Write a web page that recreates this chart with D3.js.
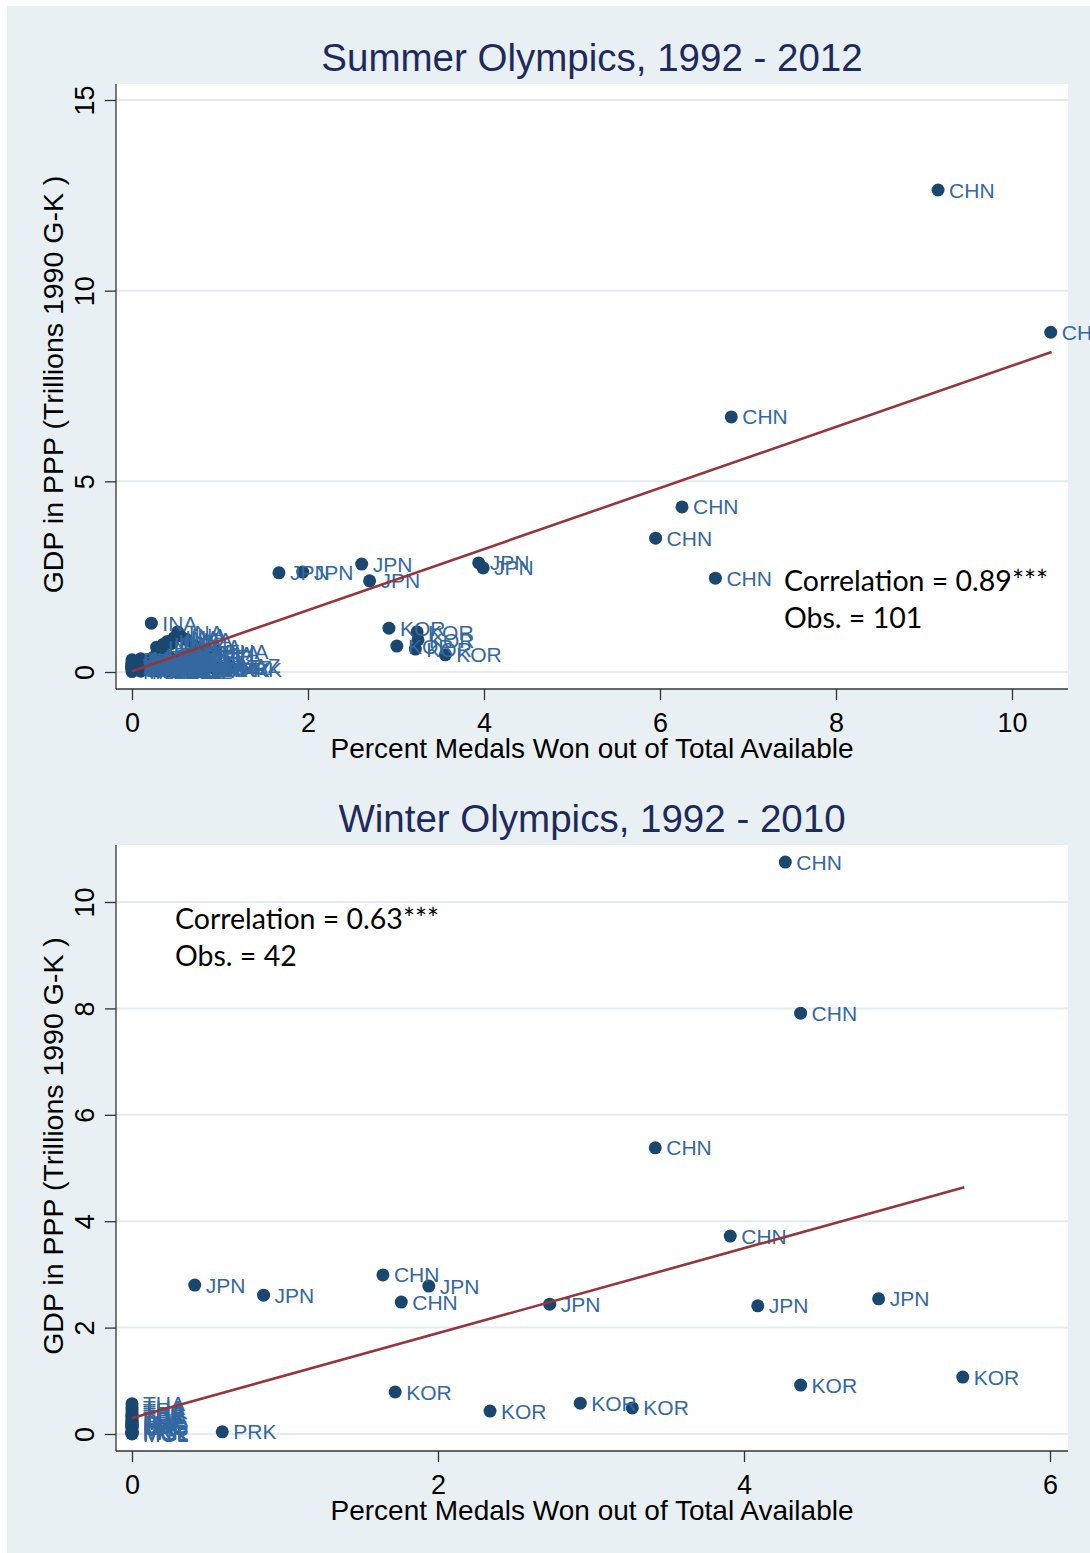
<!DOCTYPE html>
<html><head><meta charset="utf-8">
<script src="https://cdn.jsdelivr.net/npm/d3@7"></script>
<style>body{margin:0;background:#fff}svg{display:block}</style>
</head><body>
<script>
// ---------- Summer data ----------
const summerCodes = [
 "CHN","CHN","CHN","CHN","CHN","CHN",
 "JPN","JPN","JPN","JPN","JPN","JPN",
 "KOR","KOR","KOR","KOR","KOR","KOR",
 "INA","INA","INA","INA","INA","INA","INA","INA","INA","INA",
 "THA","THA","THA","THA","THA","THA",
 "PRK","PRK","PRK","PRK","PRK","PRK",
 "TPE","TPE","TPE","TPE","TPE","TPE",
 "MAS","MAS","MAS","MAS","MAS","MAS",
 "PHI","PHI","PHI","PHI","PHI","PHI",
 "HKG","HKG","HKG","HKG","HKG","HKG",
 "SIN","SIN","SIN","SIN","SIN",
 "MGL","MGL","MGL","MGL","MGL",
 "VIE","VIE","VIE","VIE","VIE",
 "KAZ","KAZ","KAZ","KAZ","KAZ",
 "UZB","UZB","UZB","UZB","UZB",
 "IRI","IRI","IRI","IRI"
];
const summerMedalPct = [
 9.16,10.44,6.81,6.25,5.95,6.63,
 1.67,1.94,2.61,2.70,3.94,3.99,
 2.92,3.01,3.24,3.25,3.22,3.56,
 0.22,0.52,0.55,0.62,0.45,0.72,0.35,0.28,0.40,0.48,
 0.85,0.78,0.65,0.42,0.30,0.95,
 1.09,0.95,0.62,0.70,0.55,0.80,
 0.55,0.38,0.62,0.48,0.20,0.75,
 0.10,0.20,0.15,0.30,0.08,0.25,
 0.12,0.05,0.00,0.08,0.00,0.10,
 0.00,0.10,0.05,0.12,0.00,0.15,
 0.00,0.10,0.00,0.08,0.00,
 0.10,0.00,0.40,0.30,0.50,
 0.00,0.00,0.10,0.15,0.00,
 0.90,1.00,0.85,1.10,0.70,
 0.35,0.45,0.50,0.60,0.40,
 0.40,0.45,0.60,0.50
];
const summerGDP = [
 12.64,8.91,6.69,4.33,3.51,2.46,
 2.60,2.62,2.83,2.39,2.86,2.73,
 1.15,0.68,1.05,0.84,0.60,0.45,
 1.28,1.05,0.95,0.85,0.75,0.68,0.72,0.65,0.80,0.90,
 0.52,0.48,0.45,0.40,0.38,0.55,
 0.08,0.07,0.06,0.06,0.05,0.07,
 0.40,0.45,0.35,0.30,0.28,0.42,
 0.35,0.30,0.25,0.22,0.18,0.40,
 0.30,0.28,0.32,0.25,0.22,0.20,
 0.15,0.18,0.20,0.22,0.25,0.14,
 0.08,0.10,0.12,0.12,0.10,
 0.02,0.01,0.02,0.02,0.02,
 0.10,0.14,0.15,0.16,0.18,
 0.15,0.12,0.14,0.17,0.13,
 0.05,0.05,0.06,0.06,0.06,
 0.25,0.28,0.30,0.32
];
const summerFitX = [0, 10.45];
const summerFitY = [0.02, 8.39];
const summerXTicks = [0, 2, 4, 6, 8, 10];
const summerYTicks = [0, 5, 10, 15];
const summerTitle = "Summer Olympics, 1992 - 2012";
const summerNote = ["Correlation = 0.89***", "Obs. = 101"];

// ---------- Winter data ----------
const winterCodes = [
 "CHN","CHN","CHN","CHN","CHN","CHN",
 "JPN","JPN","JPN","JPN","JPN","JPN",
 "KOR","KOR","KOR","KOR","KOR","KOR",
 "PRK",
 "THA","THA","THA","THA",
 "TPE","TPE","TPE","TPE",
 "PHI","PHI","PHI",
 "HKG","HKG","HKG",
 "MAS","MAS",
 "PRK","PRK","PRK",
 "MGL","MGL","MGL","MGL"
];
const winterMedalPct = [
 4.27,4.37,3.42,3.91,1.64,1.76,
 0.41,0.86,1.94,2.73,4.09,4.88,
 1.72,2.34,2.93,3.27,4.37,5.43,
 0.59,
 0,0,0,0,
 0,0,0,0,
 0,0,0,
 0,0,0,
 0,0,
 0,0,0,
 0,0,0,0
];
const winterGDP = [
 10.75,7.91,5.38,3.72,2.99,2.48,
 2.80,2.61,2.78,2.44,2.41,2.54,
 0.79,0.43,0.58,0.49,0.92,1.07,
 0.04,
 0.57,0.50,0.45,0.40,
 0.36,0.33,0.30,0.27,
 0.25,0.22,0.19,
 0.17,0.15,0.13,
 0.21,0.11,
 0.03,0.04,0.05,
 0.00,0.01,0.01,0.02
];
const winterFitX = [0, 5.44];
const winterFitY = [0.30, 4.64];
const winterXTicks = [0, 2, 4, 6];
const winterYTicks = [0, 2, 4, 6, 8, 10];
const winterTitle = "Winter Olympics, 1992 - 2010";
const winterNote = ["Correlation = 0.63***", "Obs. = 42"];

const xTitle = "Percent Medals Won out of Total Available";
const yTitle = "GDP in PPP (Trillions 1990 G-K )";

// ---------- Drawing ----------
const W = 1090, H = 1553;
const BG = "#e9f0f3", GRID = "#e2ebef", MARK = "#1a476f", LAB = "#3468a0", FIT = "#94363c", TITLE = "#1e2a5c";
const SANS = "'Liberation Sans', Arial, sans-serif";
const NOTEF = "Lato, 'Open Sans', sans-serif";

const svg = d3.select("body").append("svg").attr("width", W).attr("height", H);
svg.append("rect").attr("width", W).attr("height", H).attr("fill", "#fff");
svg.append("rect").attr("x", 7).attr("y", 6).attr("width", W - 7).attr("height", H - 6).attr("fill", BG);

function panel(p) {
  const g = svg.append("g");
  const x = d3.scaleLinear().domain(p.xDomain).range(p.xRange);
  const y = d3.scaleLinear().domain(p.yDomain).range(p.yRange);
  const box = p.box;
  g.append("rect").attr("x", box.l).attr("y", box.t).attr("width", box.r - box.l).attr("height", box.b - box.t).attr("fill", "#fff");
  // gridlines
  g.selectAll(".grid").data(p.yTicks).join("line")
    .attr("x1", box.l).attr("x2", box.r)
    .attr("y1", d => y(d)).attr("y2", d => y(d))
    .attr("stroke", GRID).attr("stroke-width", 2);
  // axis lines
  g.append("line").attr("x1", box.l).attr("x2", box.l).attr("y1", box.t).attr("y2", box.b).attr("stroke", "#333").attr("stroke-width", 1.3);
  g.append("line").attr("x1", box.l).attr("x2", box.r).attr("y1", box.b).attr("y2", box.b).attr("stroke", "#333").attr("stroke-width", 1.3);

  // y axis
  const ya = g.append("g").attr("transform", `translate(${box.l},0)`)
    .call(d3.axisLeft(y).tickValues(p.yTicks).tickSize(11).tickSizeOuter(0).tickFormat(d3.format("d")));
  ya.select(".domain").remove();
  ya.selectAll(".tick line").attr("stroke", "#333").attr("stroke-width", 1.3);
  ya.selectAll(".tick text")
    .attr("transform", "rotate(-90)").attr("x", 0).attr("y", -32).attr("dy", "0.36em")
    .attr("text-anchor", "middle").attr("font-family", SANS).attr("font-size", 27).attr("fill", "#000");

  // x axis
  const xa = g.append("g").attr("transform", `translate(0,${box.b})`)
    .call(d3.axisBottom(x).tickValues(p.xTicks).tickSize(11).tickSizeOuter(0).tickFormat(d3.format("d")));
  xa.select(".domain").remove();
  xa.selectAll(".tick line").attr("stroke", "#333").attr("stroke-width", 1.3);
  xa.selectAll(".tick text").attr("y", 33).attr("dy", "0.36em")
    .attr("font-family", SANS).attr("font-size", 27).attr("fill", "#000");

  // titles
  g.append("text").attr("x", 592).attr("y", p.titleY).attr("dy", "0.36em").attr("text-anchor", "middle")
    .attr("font-family", SANS).attr("font-size", 38.5).attr("fill", TITLE).text(p.title);
  g.append("text").attr("x", 592).attr("y", box.b + 59).attr("dy", "0.36em").attr("text-anchor", "middle")
    .attr("font-family", SANS).attr("font-size", 28).attr("fill", "#000").text(xTitle);
  g.append("text").attr("transform", `translate(53,${(box.t + box.b) / 2 - 2}) rotate(-90)`)
    .attr("dy", "0.36em").attr("text-anchor", "middle")
    .attr("font-family", SANS).attr("font-size", 28.5).attr("fill", "#000").text(yTitle);

  // points
  const data = p.codes.map((c, i) => ({ c, x: p.xs[i], y: p.ys[i] }));
  g.selectAll(".pt").data(data).join("circle")
    .attr("cx", d => x(d.x)).attr("cy", d => y(d.y)).attr("r", 6.5).attr("fill", MARK);
  g.selectAll(".lab").data(data).join("text")
    .attr("x", d => x(d.x) + 11).attr("y", d => y(d.y)).attr("dy", "0.36em")
    .attr("font-family", SANS).attr("font-size", 21).attr("fill", LAB).text(d => d.c);

  // fit line
  const fit = p.fitX.map((v, i) => [v, p.fitY[i]]);
  g.append("path").attr("d", d3.line().x(d => x(d[0])).y(d => y(d[1]))(fit))
    .attr("fill", "none").attr("stroke", FIT).attr("stroke-width", 2.6);

  // note
  p.note.forEach((t, i) => {
    g.append("text").attr("x", p.noteX).attr("y", p.noteY + i * 37).attr("dy", "0.36em")
      .attr("font-family", NOTEF).attr("font-size", 28.5).attr("fill", "#000").text(t);
  });
}

panel({
  box: { l: 116, r: 1068, t: 84, b: 689 },
  xDomain: [0, 10], xRange: [132, 1012],
  yDomain: [0, 15], yRange: [672, 100],
  xTicks: summerXTicks, yTicks: summerYTicks,
  codes: summerCodes, xs: summerMedalPct, ys: summerGDP,
  fitX: summerFitX, fitY: summerFitY,
  title: summerTitle, titleY: 57,
  note: summerNote, noteX: 784, noteY: 581
});

panel({
  box: { l: 116, r: 1068, t: 845, b: 1451 },
  xDomain: [0, 6], xRange: [132, 1050],
  yDomain: [0, 10], yRange: [1434, 902],
  xTicks: winterXTicks, yTicks: winterYTicks,
  codes: winterCodes, xs: winterMedalPct, ys: winterGDP,
  fitX: winterFitX, fitY: winterFitY,
  title: winterTitle, titleY: 818,
  note: winterNote, noteX: 175, noteY: 919
});
</script>
</body></html>
